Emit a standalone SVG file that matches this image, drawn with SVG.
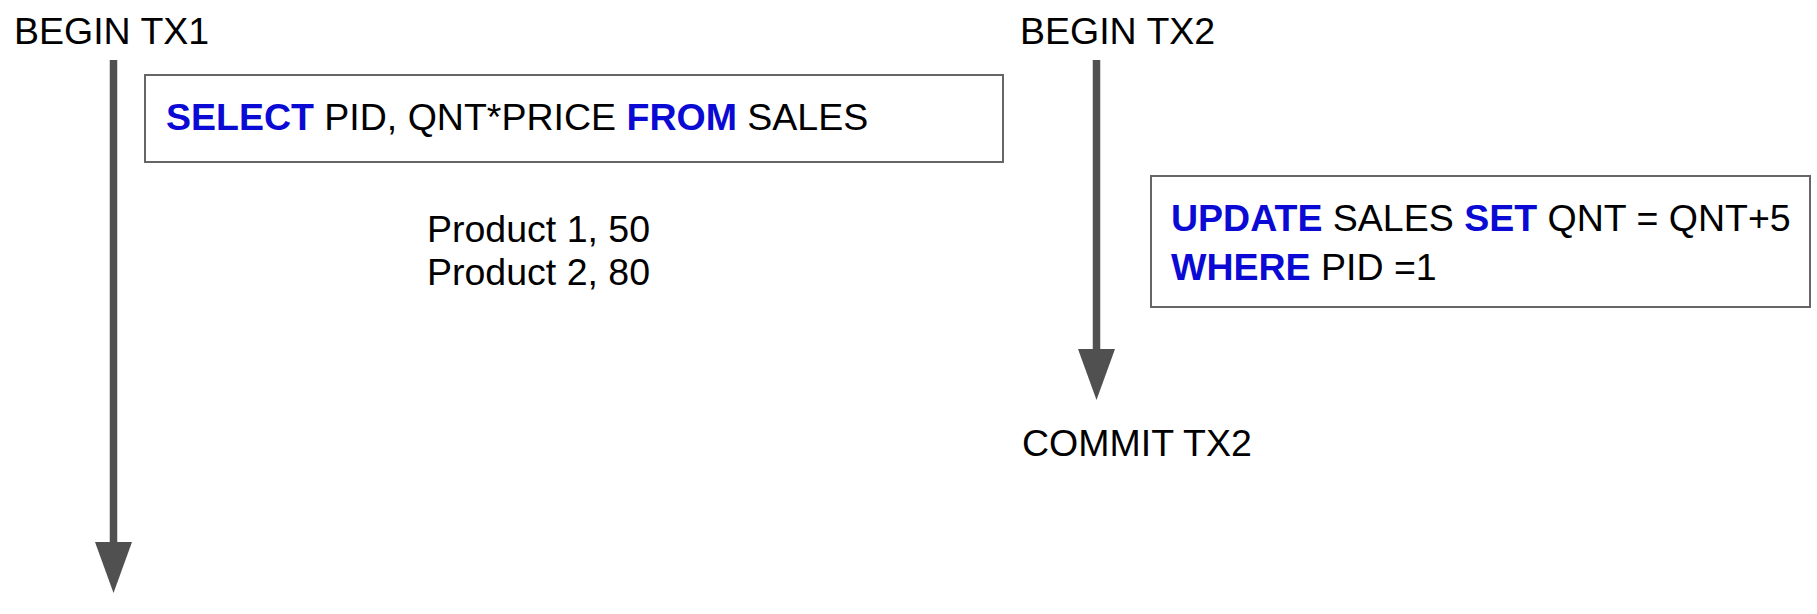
<svg xmlns="http://www.w3.org/2000/svg" width="1817" height="614" viewBox="0 0 1817 614">
<style>
.t{font-family:"Liberation Sans",Arial,sans-serif;font-size:37.5px;fill:#000}
.k{font-weight:bold;fill:#0a0ad4}
.box{fill:#fff;stroke:#666;stroke-width:2}
.ln{stroke:#505050;stroke-width:7.5;fill:none}
.hd{fill:#505050}
</style>
<rect width="1817" height="614" fill="#fff"/>
<g id="connectors">
<line class="ln" x1="113.5" y1="60" x2="113.5" y2="545"/>
<polygon class="hd" points="95,542 132,542 113.5,593"/>
<line class="ln" x1="1096.5" y1="60" x2="1096.5" y2="352"/>
<polygon class="hd" points="1078,349 1115,349 1096.5,400"/>
</g>
<g id="begin-tx1"><text class="t" x="14" y="44">BEGIN TX1</text></g>
<g id="begin-tx2"><text class="t" x="1020" y="44">BEGIN TX2</text></g>
<g id="commit-tx2"><text class="t" x="1022" y="456">COMMIT TX2</text></g>
<g id="select-box">
<rect class="box" x="145" y="75" width="858" height="87"/>
<text class="t" x="166" y="130"><tspan class="k">SELECT</tspan> PID, QNT*PRICE <tspan class="k">FROM</tspan> SALES</text>
</g>
<g id="result">
<text class="t" x="427" y="242">Product 1, 50</text>
<text class="t" x="427" y="285">Product 2, 80</text>
</g>
<g id="update-box">
<rect class="box" x="1151" y="176" width="659" height="131"/>
<text class="t" x="1171" y="231"><tspan class="k">UPDATE</tspan> SALES <tspan class="k">SET</tspan> QNT = QNT+5</text>
<text class="t" x="1171" y="280"><tspan class="k">WHERE</tspan> PID =1</text>
</g>
</svg>
